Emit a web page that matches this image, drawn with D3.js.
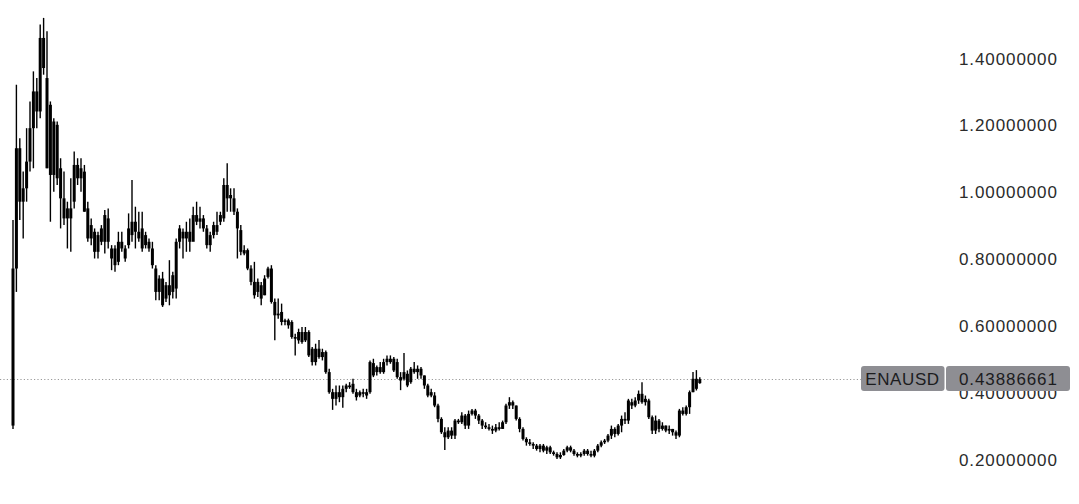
<!DOCTYPE html>
<html>
<head>
<meta charset="utf-8">
<script src="https://cdn.jsdelivr.net/npm/d3@7"></script>
<style>
  html, body { margin: 0; padding: 0; background: #ffffff; }
  svg { display: block; }
</style>
</head>
<body>
<svg id="chart" width="1079" height="504"></svg>
<script>
// ---- Data ----
const symbol = "ENAUSD";
const lastPrice = 0.43886661;
const tickValues = [0.2, 0.4, 0.6, 0.8, 1.0, 1.2, 1.4];
const tickLabels = ["0.20000000", "0.40000000", "0.60000000", "0.80000000", "1.00000000", "1.20000000", "1.40000000"];

// OHLC candles: [open, high, low, close]
const candles = [
  [0.30, 0.915, 0.29, 0.77], [0.77, 1.32, 0.70, 1.13], [1.13, 1.16, 0.915, 0.97], [0.97, 1.06, 0.86, 1.01],
  [1.01, 1.19, 0.97, 1.09], [1.09, 1.27, 1.06, 1.19], [1.19, 1.36, 1.07, 1.30], [1.30, 1.34, 1.19, 1.24],
  [1.24, 1.50, 1.22, 1.46], [1.46, 1.52, 1.35, 1.37], [1.34, 1.48, 1.07, 1.07], [1.05, 1.27, 0.91, 1.26],
  [1.21, 1.22, 1.00, 1.05], [1.04, 1.21, 1.02, 1.20], [1.07, 1.10, 0.89, 0.98], [0.98, 1.06, 0.90, 0.92],
  [0.92, 0.97, 0.83, 0.95], [0.95, 1.04, 0.82, 0.92], [0.97, 1.12, 0.95, 1.08], [1.08, 1.10, 1.02, 1.04],
  [1.04, 1.10, 1.00, 1.07], [1.06, 1.08, 0.94, 0.94], [0.95, 0.97, 0.85, 0.86], [0.86, 0.92, 0.84, 0.90],
  [0.88, 0.89, 0.80, 0.82], [0.82, 0.88, 0.80, 0.87], [0.85, 0.90, 0.84, 0.89], [0.93, 0.945, 0.815, 0.85],
  [0.85, 0.95, 0.83, 0.92], [0.83, 0.84, 0.765, 0.80], [0.83, 0.84, 0.76, 0.78], [0.79, 0.88, 0.78, 0.85],
  [0.85, 0.88, 0.82, 0.83], [0.83, 0.84, 0.79, 0.80], [0.84, 0.935, 0.83, 0.89], [0.87, 1.035, 0.85, 0.91],
  [0.91, 0.955, 0.83, 0.88], [0.88, 0.94, 0.85, 0.86], [0.89, 0.94, 0.82, 0.83], [0.84, 0.88, 0.83, 0.87],
  [0.85, 0.86, 0.82, 0.83], [0.83, 0.85, 0.77, 0.78], [0.77, 0.78, 0.675, 0.70], [0.70, 0.75, 0.675, 0.74],
  [0.74, 0.76, 0.655, 0.66], [0.68, 0.73, 0.67, 0.72], [0.72, 0.795, 0.66, 0.69], [0.70, 0.76, 0.68, 0.75],
  [0.71, 0.86, 0.68, 0.85], [0.85, 0.90, 0.83, 0.89], [0.88, 0.89, 0.80, 0.86], [0.86, 0.91, 0.82, 0.88],
  [0.88, 0.92, 0.82, 0.85], [0.85, 0.955, 0.86, 0.93], [0.93, 0.97, 0.90, 0.91], [0.91, 0.955, 0.89, 0.92],
  [0.92, 0.93, 0.88, 0.89], [0.89, 0.90, 0.83, 0.84], [0.84, 0.88, 0.82, 0.87], [0.87, 0.91, 0.86, 0.90],
  [0.90, 0.94, 0.87, 0.88], [0.91, 0.94, 0.90, 0.93], [0.92, 1.04, 0.91, 1.02], [1.02, 1.085, 0.94, 0.98],
  [0.98, 1.01, 0.94, 0.99], [0.98, 1.01, 0.93, 0.94], [0.94, 0.95, 0.80, 0.89], [0.885, 0.90, 0.81, 0.82],
  [0.815, 0.84, 0.81, 0.825], [0.825, 0.83, 0.765, 0.77], [0.77, 0.78, 0.72, 0.73], [0.73, 0.79, 0.68, 0.69],
  [0.70, 0.74, 0.685, 0.73], [0.72, 0.73, 0.66, 0.68], [0.69, 0.75, 0.69, 0.74], [0.745, 0.775, 0.74, 0.77],
  [0.77, 0.78, 0.665, 0.67], [0.67, 0.68, 0.555, 0.63], [0.63, 0.68, 0.62, 0.635], [0.64, 0.665, 0.60, 0.61],
  [0.61, 0.62, 0.60, 0.615], [0.615, 0.62, 0.59, 0.60], [0.61, 0.615, 0.56, 0.565], [0.565, 0.575, 0.51, 0.56],
  [0.555, 0.59, 0.545, 0.58], [0.58, 0.595, 0.545, 0.55], [0.555, 0.595, 0.55, 0.58], [0.58, 0.585, 0.505, 0.51],
  [0.53, 0.535, 0.48, 0.49], [0.49, 0.545, 0.48, 0.53], [0.53, 0.556, 0.50, 0.505], [0.505, 0.53, 0.495, 0.52],
  [0.52, 0.525, 0.455, 0.46], [0.46, 0.47, 0.395, 0.40], [0.40, 0.41, 0.347, 0.38], [0.38, 0.42, 0.36, 0.40],
  [0.40, 0.42, 0.37, 0.385], [0.385, 0.42, 0.353, 0.41], [0.41, 0.425, 0.40, 0.42], [0.415, 0.43, 0.41, 0.42],
  [0.425, 0.44, 0.395, 0.40], [0.40, 0.41, 0.375, 0.385], [0.39, 0.405, 0.385, 0.40], [0.40, 0.41, 0.385, 0.395],
  [0.39, 0.41, 0.38, 0.40], [0.40, 0.495, 0.395, 0.49], [0.487, 0.50, 0.445, 0.45], [0.46, 0.48, 0.45, 0.475],
  [0.475, 0.49, 0.455, 0.46], [0.46, 0.50, 0.455, 0.49], [0.49, 0.51, 0.48, 0.50], [0.50, 0.51, 0.485, 0.49],
  [0.50, 0.505, 0.46, 0.465], [0.49, 0.50, 0.44, 0.445], [0.445, 0.46, 0.406, 0.435], [0.44, 0.517, 0.435, 0.46],
  [0.455, 0.465, 0.415, 0.42], [0.43, 0.475, 0.425, 0.47], [0.47, 0.49, 0.455, 0.46], [0.46, 0.48, 0.44, 0.47],
  [0.47, 0.475, 0.44, 0.45], [0.45, 0.45, 0.41, 0.42], [0.42, 0.425, 0.385, 0.39], [0.40, 0.41, 0.385, 0.39],
  [0.39, 0.40, 0.355, 0.36], [0.36, 0.365, 0.31, 0.32], [0.32, 0.325, 0.275, 0.28], [0.28, 0.295, 0.227, 0.265],
  [0.265, 0.295, 0.26, 0.285], [0.285, 0.295, 0.26, 0.27], [0.27, 0.32, 0.26, 0.315], [0.315, 0.32, 0.305, 0.31],
  [0.31, 0.34, 0.305, 0.33], [0.33, 0.335, 0.29, 0.30], [0.30, 0.345, 0.29, 0.335], [0.335, 0.35, 0.33, 0.345],
  [0.345, 0.35, 0.32, 0.33], [0.33, 0.335, 0.305, 0.315], [0.315, 0.32, 0.29, 0.30], [0.30, 0.31, 0.29, 0.295],
  [0.295, 0.305, 0.285, 0.29], [0.29, 0.30, 0.275, 0.285], [0.285, 0.305, 0.28, 0.295], [0.295, 0.31, 0.285, 0.29],
  [0.29, 0.315, 0.29, 0.31], [0.31, 0.365, 0.305, 0.36], [0.36, 0.385, 0.35, 0.37], [0.37, 0.375, 0.35, 0.36],
  [0.36, 0.36, 0.315, 0.32], [0.32, 0.325, 0.28, 0.29], [0.29, 0.295, 0.255, 0.26], [0.26, 0.265, 0.24, 0.25],
  [0.25, 0.26, 0.24, 0.245], [0.245, 0.25, 0.23, 0.24], [0.24, 0.245, 0.225, 0.23], [0.23, 0.245, 0.22, 0.24],
  [0.24, 0.245, 0.22, 0.225], [0.225, 0.24, 0.215, 0.235], [0.235, 0.24, 0.215, 0.22], [0.22, 0.225, 0.21, 0.215],
  [0.215, 0.22, 0.20, 0.205], [0.205, 0.22, 0.20, 0.212], [0.212, 0.23, 0.21, 0.225], [0.225, 0.24, 0.22, 0.235],
  [0.235, 0.24, 0.22, 0.225], [0.225, 0.23, 0.21, 0.215], [0.215, 0.22, 0.205, 0.21], [0.21, 0.22, 0.205, 0.215],
  [0.215, 0.23, 0.21, 0.225], [0.225, 0.23, 0.21, 0.215], [0.215, 0.225, 0.205, 0.21], [0.21, 0.23, 0.205, 0.225],
  [0.225, 0.245, 0.22, 0.24], [0.24, 0.255, 0.235, 0.25], [0.25, 0.26, 0.245, 0.255], [0.255, 0.275, 0.25, 0.27],
  [0.27, 0.30, 0.26, 0.29], [0.29, 0.295, 0.265, 0.275], [0.275, 0.305, 0.27, 0.30], [0.30, 0.33, 0.28, 0.32],
  [0.32, 0.34, 0.305, 0.315], [0.315, 0.38, 0.305, 0.375], [0.37, 0.38, 0.35, 0.36], [0.36, 0.385, 0.355, 0.375],
  [0.375, 0.405, 0.365, 0.395], [0.395, 0.43, 0.365, 0.37], [0.37, 0.39, 0.36, 0.38], [0.375, 0.38, 0.32, 0.325],
  [0.325, 0.33, 0.275, 0.285], [0.285, 0.33, 0.275, 0.315], [0.315, 0.32, 0.28, 0.29], [0.29, 0.31, 0.285, 0.30],
  [0.30, 0.30, 0.28, 0.285], [0.285, 0.30, 0.275, 0.29], [0.29, 0.29, 0.27, 0.28], [0.28, 0.285, 0.26, 0.27],
  [0.27, 0.35, 0.265, 0.345], [0.345, 0.355, 0.33, 0.335], [0.335, 0.36, 0.33, 0.355], [0.355, 0.405, 0.335, 0.40],
  [0.40, 0.46, 0.40, 0.44], [0.44, 0.466, 0.405, 0.41], [0.427, 0.445, 0.425, 0.43886661]
];

// ---- Drawing ----
const svg = d3.select("#chart");

const x = d3.scaleLinear().domain([0, candles.length - 1]).range([13, 699.8]);
const y = d3.scaleLinear().domain([0.2, 1.4]).range([459, 58]);

const bodyW = 3;
const wickW = 1.4;

// dotted last-price line
svg.append("line")
  .attr("x1", 0).attr("x2", 861)
  .attr("y1", Math.round(y(lastPrice)) + 0.5).attr("y2", Math.round(y(lastPrice)) + 0.5)
  .attr("stroke", "#9a9a9a").attr("stroke-width", 1)
  .attr("stroke-dasharray", "1.2,2.2");

const g = svg.append("g");
const c = g.selectAll("g.candle").data(candles).join("g").attr("class", "candle");
c.append("line")
  .attr("x1", (d, i) => x(i)).attr("x2", (d, i) => x(i))
  .attr("y1", d => y(d[1])).attr("y2", d => y(d[2]))
  .attr("stroke", "#000").attr("stroke-width", wickW);
c.append("rect")
  .attr("x", (d, i) => x(i) - bodyW / 2)
  .attr("width", bodyW)
  .attr("y", d => y(Math.max(d[0], d[3])))
  .attr("height", d => Math.max(1.5, Math.abs(y(d[0]) - y(d[3]))))
  .attr("fill", "#000");

// right axis labels
const axis = d3.axisRight(y).tickValues(tickValues)
  .tickFormat((d, i) => tickLabels[i]).tickSize(0).tickPadding(0);
const ag = svg.append("g").attr("transform", "translate(959,0)").call(axis);
ag.select(".domain").remove();
ag.selectAll("text")
  .attr("fill", "#2b2b2b")
  .style("font-family", "'Liberation Sans', Arial, Helvetica, sans-serif")
  .style("font-size", "17px")
  .style("letter-spacing", "0.9px")
  .attr("dy", "0.36em");

// badges (drawn over the axis labels, as in the reference)
const bTop = 366, bH = 25;
svg.append("rect").attr("x", 861).attr("y", bTop).attr("width", 83.5).attr("height", bH)
  .attr("rx", 3).attr("fill", "#8e8e93");
svg.append("rect").attr("x", 946).attr("y", bTop).attr("width", 124).attr("height", bH)
  .attr("rx", 3).attr("fill", "#8e8e93");
svg.append("text").attr("x", 902.5).attr("y", bTop + bH / 2).attr("dy", "0.36em")
  .attr("text-anchor", "middle").attr("fill", "#1c1c1e")
  .style("font-family", "'Liberation Sans', Arial, Helvetica, sans-serif")
  .style("font-size", "17px").style("letter-spacing", "0.6px")
  .text(symbol);
svg.append("text").attr("x", 959).attr("y", bTop + bH / 2).attr("dy", "0.36em")
  .attr("fill", "#1c1c1e")
  .style("font-family", "'Liberation Sans', Arial, Helvetica, sans-serif")
  .style("font-size", "17px").style("letter-spacing", "0.9px")
  .text(d3.format(".8f")(lastPrice));
</script>
</body>
</html>
